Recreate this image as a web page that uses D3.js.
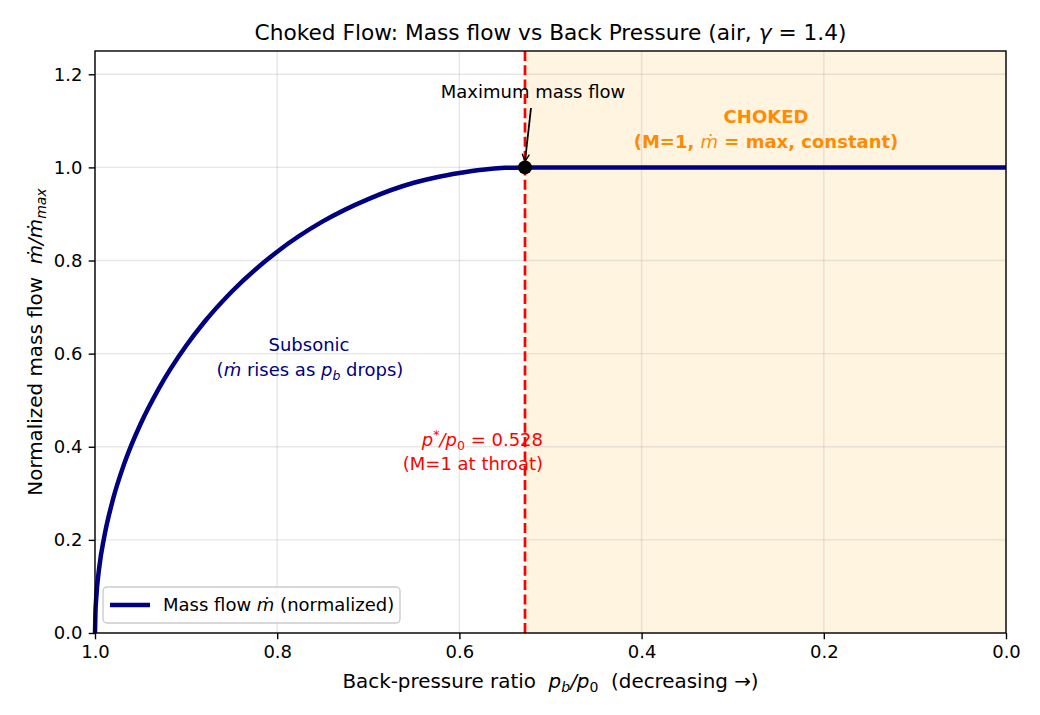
<!DOCTYPE html>
<html>
<head>
<meta charset="utf-8">
<script src="https://cdn.jsdelivr.net/npm/d3@7"></script>
<style>
  body { margin: 0; background: #fff; }
  svg text { font-family: "DejaVu Sans", sans-serif; }
</style>
</head>
<body>
<svg id="chart" width="1040" height="715"></svg>
<script>
// pressure ratio p_b/p_0 (subsonic branch) and normalized mass flow
var ratioSub = [1.0, 0.9995, 0.999, 0.995, 0.99, 0.98, 0.97, 0.96, 0.95, 0.93, 0.9, 0.88, 0.85, 0.8, 0.75, 0.7, 0.65, 0.625, 0.6, 0.575, 0.55, 0.54, 0.528];
var flowSub  = [0.0, 0.046, 0.065, 0.146, 0.205, 0.289, 0.352, 0.404, 0.449, 0.525, 0.617, 0.668, 0.733, 0.819, 0.884, 0.932, 0.967, 0.979, 0.988, 0.995, 0.999, 0.9995, 1.0];
// choked branch
var ratioChoked = [0.528, 0.0];
var flowChoked  = [1.0, 1.0];
var pStar = 0.528;
var xTicks = [1.0, 0.8, 0.6, 0.4, 0.2, 0.0];
var yTicks = [0.0, 0.2, 0.4, 0.6, 0.8, 1.0, 1.2];

var svg = d3.select("#chart");
var margin = {left: 95, right: 34, top: 51, bottom: 82};
var W = 1040, H = 715;
var FS = 18; // 10pt at 130 dpi

var x = d3.scaleLinear().domain([1.0, 0.0]).range([margin.left, W - margin.right]);
var y = d3.scaleLinear().domain([0, 1.25]).range([H - margin.bottom, margin.top]);

// choked region shading
svg.append("rect")
  .attr("x", x(pStar)).attr("y", y(1.25))
  .attr("width", x(0) - x(pStar)).attr("height", y(0) - y(1.25))
  .attr("fill", "rgba(255,165,0,0.12)");

// grid
svg.append("g").selectAll("line").data(xTicks).join("line")
  .attr("x1", d => x(d)).attr("x2", d => x(d))
  .attr("y1", y(0)).attr("y2", y(1.25))
  .attr("stroke", "#b0b0b0").attr("stroke-opacity", 0.3).attr("stroke-width", 1.4);
svg.append("g").selectAll("line").data(yTicks).join("line")
  .attr("x1", x(1)).attr("x2", x(0))
  .attr("y1", d => y(d)).attr("y2", d => y(d))
  .attr("stroke", "#b0b0b0").attr("stroke-opacity", 0.3).attr("stroke-width", 1.4);

// p* line
svg.append("line")
  .attr("x1", x(pStar)).attr("x2", x(pStar))
  .attr("y1", y(0)).attr("y2", y(1.25))
  .attr("stroke", "red").attr("stroke-width", 2.7).attr("stroke-dasharray", "10,4.3");

var subPts = ratioSub.map((r, i) => [r, flowSub[i]]);
var chokedPts = ratioChoked.map((r, i) => [r, flowChoked[i]]);

svg.append("path").datum(subPts)
  .attr("d", d3.line().x(d => x(d[0])).y(d => y(d[1])).curve(d3.curveMonotoneX))
  .attr("fill", "none").attr("stroke", "navy").attr("stroke-width", 4.5);
svg.append("path").datum(chokedPts)
  .attr("d", d3.line().x(d => x(d[0])).y(d => y(d[1])))
  .attr("fill", "none").attr("stroke", "navy").attr("stroke-width", 4.5);

// max point
svg.append("circle").attr("cx", x(pStar)).attr("cy", y(1)).attr("r", 7).attr("fill", "black");

// axes
var xAxis = d3.axisBottom(x).tickValues(xTicks).tickFormat(d3.format(".1f")).tickSize(6.3).tickPadding(6.3);
var yAxis = d3.axisLeft(y).tickValues(yTicks).tickFormat(d3.format(".1f")).tickSize(6.3).tickPadding(6.3);
var gx = svg.append("g").attr("transform", "translate(0," + y(0) + ")").call(xAxis);
var gy = svg.append("g").attr("transform", "translate(" + x(1) + ",0)").call(yAxis);
[gx, gy].forEach(function(g) {
  g.select(".domain").remove();
  g.selectAll("text").attr("font-size", FS).attr("fill", "black").attr("font-family", "DejaVu Sans");
  g.selectAll("line").attr("stroke", "black").attr("stroke-width", 1.4);
});

// frame
svg.append("rect")
  .attr("x", x(1)).attr("y", y(1.25))
  .attr("width", x(0) - x(1)).attr("height", y(0) - y(1.25))
  .attr("fill", "none").attr("stroke", "black").attr("stroke-width", 1.4);

// title
var title = svg.append("text").attr("x", (x(1) + x(0)) / 2).attr("y", 40)
  .attr("text-anchor", "middle").attr("font-size", 21.7);
title.append("tspan").text("Choked Flow: Mass flow vs Back Pressure (air, ");
title.append("tspan").attr("font-style", "italic").text("γ");
title.append("tspan").text(" = 1.4)");

// x label
var xl = svg.append("text").attr("x", (x(1) + x(0)) / 2).attr("y", 688)
  .attr("text-anchor", "middle").attr("font-size", 19.9).attr("xml:space", "preserve");
xl.append("tspan").text("Back-pressure ratio  ");
xl.append("tspan").attr("font-style", "italic").text("p");
xl.append("tspan").attr("font-style", "italic").attr("font-size", 14).attr("dy", 4).text("b");
xl.append("tspan").attr("dy", -4).attr("font-style", "italic").text("/p");
xl.append("tspan").attr("font-size", 14).attr("dy", 4).text("0");
xl.append("tspan").attr("dy", -4).text("  (decreasing →)");

// y label
var yl = svg.append("text").attr("transform", "translate(42," + y(0.625) + ") rotate(-90)")
  .attr("text-anchor", "middle").attr("font-size", 19.9).attr("xml:space", "preserve");
yl.append("tspan").text("Normalized mass flow  ");
yl.append("tspan").attr("font-style", "italic").text("m\u0307/m\u0307");
yl.append("tspan").attr("font-style", "italic").attr("font-size", 14).attr("dy", 4).text("max");

// annotations
svg.append("text").attr("x", 533).attr("y", 98).attr("text-anchor", "middle")
  .attr("font-size", FS).text("Maximum mass flow");
svg.append("defs").append("marker").attr("id", "arr")
  .attr("viewBox", "0 0 10 10").attr("refX", 9).attr("refY", 5)
  .attr("markerWidth", 9).attr("markerHeight", 9).attr("markerUnits", "userSpaceOnUse").attr("orient", "auto")
  .append("path").attr("d", "M1,1 L9,5 L1,9").attr("fill", "none").attr("stroke", "black").attr("stroke-width", 1.5);
svg.append("line").attr("x1", 531).attr("y1", 108).attr("x2", x(pStar)).attr("y2", y(1) - 6)
  .attr("stroke", "black").attr("stroke-width", 1.8).attr("marker-end", "url(#arr)");

svg.append("text").attr("x", 766).attr("y", 123).attr("text-anchor", "middle")
  .attr("font-size", FS).attr("font-weight", "bold").attr("fill", "darkorange").text("CHOKED");
var ch2 = svg.append("text").attr("x", 766).attr("y", 148).attr("text-anchor", "middle")
  .attr("font-size", FS).attr("font-weight", "bold").attr("fill", "darkorange");
ch2.append("tspan").text("(M=1, ");
ch2.append("tspan").attr("font-style", "italic").attr("font-weight", "normal").text("m\u0307");
ch2.append("tspan").text(" = max, constant)");

svg.append("text").attr("x", 309).attr("y", 351).attr("text-anchor", "middle")
  .attr("font-size", FS).attr("fill", "navy").text("Subsonic");
var s2 = svg.append("text").attr("x", 310).attr("y", 376).attr("text-anchor", "middle")
  .attr("font-size", FS).attr("fill", "navy");
s2.append("tspan").text("(");
s2.append("tspan").attr("font-style", "italic").text("m\u0307");
s2.append("tspan").text(" rises as ");
s2.append("tspan").attr("font-style", "italic").text("p");
s2.append("tspan").attr("font-style", "italic").attr("font-size", 12.5).attr("dy", 4).text("b");
s2.append("tspan").attr("dy", -4).text(" drops)");

var p1 = svg.append("text").attr("x", 543).attr("y", 446).attr("text-anchor", "end")
  .attr("font-size", FS).attr("fill", "red");
p1.append("tspan").attr("font-style", "italic").text("p");
p1.append("tspan").attr("font-size", 12.5).attr("dy", -7).text("*");
p1.append("tspan").attr("dy", 7).attr("font-style", "italic").text("/p");
p1.append("tspan").attr("font-size", 12.5).attr("dy", 4).text("0");
p1.append("tspan").attr("dy", -4).text(" = 0.528");
svg.append("text").attr("x", 543).attr("y", 470).attr("text-anchor", "end")
  .attr("font-size", FS).attr("fill", "red").text("(M=1 at throat)");

// legend
var lg = svg.append("g").attr("transform", "translate(103,587)");
lg.append("rect").attr("width", 297).attr("height", 36).attr("rx", 4)
  .attr("fill", "white").attr("fill-opacity", 0.8).attr("stroke", "#cccccc").attr("stroke-width", 1.4);
lg.append("line").attr("x1", 7).attr("x2", 47).attr("y1", 18).attr("y2", 18)
  .attr("stroke", "navy").attr("stroke-width", 4.5);
var lt = lg.append("text").attr("x", 60).attr("y", 24).attr("font-size", FS);
lt.append("tspan").text("Mass flow ");
lt.append("tspan").attr("font-style", "italic").text("m\u0307");
lt.append("tspan").text(" (normalized)");
</script>
</body>
</html>
